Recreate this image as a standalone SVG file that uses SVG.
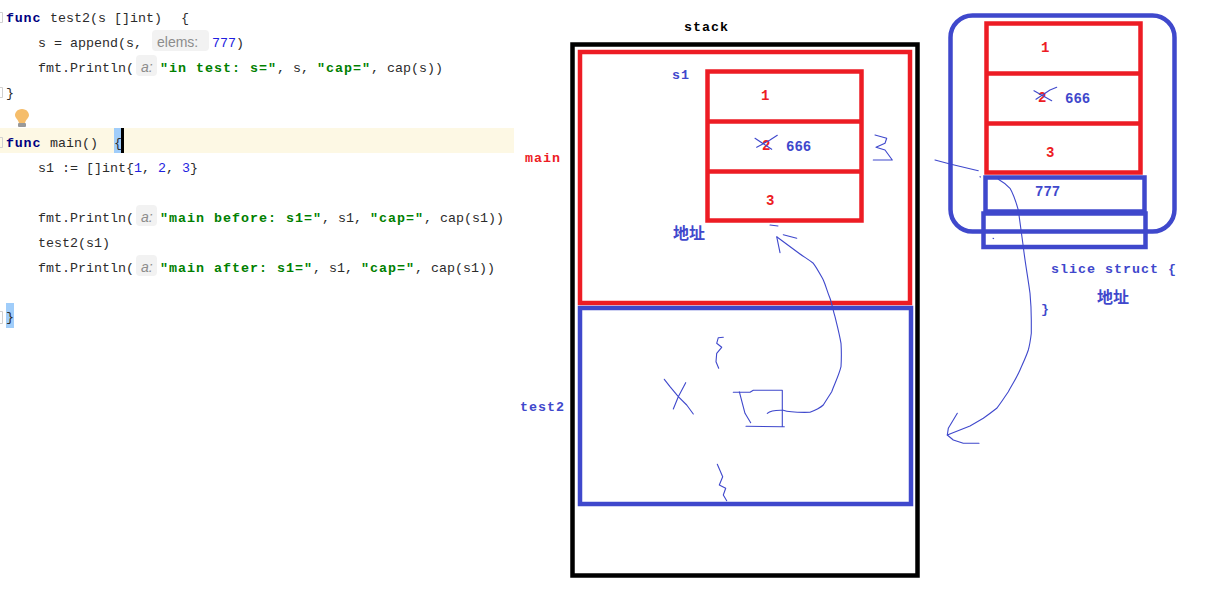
<svg xmlns="http://www.w3.org/2000/svg" width="1210" height="607" viewBox="0 0 1210 607">
<defs>
<style>
text{white-space:pre}
.c{font-family:"Liberation Mono","DejaVu Sans Mono",monospace;font-size:13.33px;fill:#2b2b2b}
.k{font-weight:bold;fill:#000080;letter-spacing:.8px}
.s{font-weight:bold;fill:#008000;letter-spacing:1px}
.n{fill:#1f1fe0}
.h{font-family:"Liberation Sans",Arial,sans-serif;font-size:14px;fill:#8c8c8c}
.hb{fill:#f2f2f2}
.l{font-family:"Liberation Mono","DejaVu Sans Mono",monospace;font-size:13.33px;font-weight:bold;letter-spacing:1px}
.cj{font-family:"Noto Sans CJK SC",sans-serif;font-size:16px;font-weight:bold;fill:#3f48cc}
.bl{fill:#3f48cc}.rd{fill:#ed1c24}.bk{fill:#000}
.num{font-family:"Liberation Mono","DejaVu Sans Mono",monospace;font-size:14px;font-weight:bold}
.box{fill:none;stroke-width:4.5}
.rs{stroke:#ed1c24}.bs{stroke:#3f48cc}.ks{stroke:#000}
.ink{fill:none;stroke:#3f48cc;stroke-width:1.1;stroke-linejoin:round;stroke-linecap:round}
.fold{fill:none;stroke:#d0d0d0;stroke-width:1}
</style>
</defs>
<rect width="1210" height="607" fill="#fff"/>
<g id="code">
<rect x="0" y="128" width="514" height="25" fill="#fdf8e4"/>
<rect x="114" y="128" width="7" height="25" fill="#a0cdfa"/>
<rect x="121" y="128" width="3" height="25" fill="#000"/>
<rect x="6" y="303" width="8" height="25" fill="#a0cdfa"/>
<path class="fold" d="M0 12.500H2.500V22.500H0M0 87.500H2.500V97.500H0M0 137.500H2.500V147.500H0M0 311.500H2.500V323.500H0"/>
<rect class="hb" x="152" y="30" width="57" height="21" rx="4"/>
<rect class="hb" x="136" y="55" width="21" height="21" rx="4"/>
<rect class="hb" x="136" y="205" width="21" height="21" rx="4"/>
<rect class="hb" x="136" y="255" width="21" height="21" rx="4"/>
<path d="M22 109c-5 0-7 4-7 6 0 3 3 4 4 8h6c1-4 4-5 4-8 0-2-2-6-7-6z" fill="#f5bd6b"/>
<rect x="18" y="123" width="8" height="4" rx="1" fill="#999"/>
<text class="c" y="22"><tspan class="k" x="6">func</tspan><tspan x="50">test2(s []int)</tspan><tspan x="181">{</tspan></text>
<text class="c" y="47"><tspan x="38">s = append(s,</tspan></text>
<text class="h" x="157" y="47">elems:</text>
<text class="c" y="47"><tspan class="n" x="212">777</tspan><tspan x="236">)</tspan></text>
<text class="c" y="72"><tspan x="38">fmt.Println(</tspan></text>
<text class="h" x="141" y="72" font-style="italic">a:</text>
<text class="c" y="72"><tspan class="s" x="160">"in test: s="</tspan><tspan x="277">, s, </tspan><tspan class="s" x="317">"cap="</tspan><tspan x="371">, cap(s))</tspan></text>
<text class="c" x="6" y="97">}</text>
<text class="c" y="147"><tspan class="k" x="6">func</tspan><tspan x="50">main()</tspan><tspan x="114">{</tspan></text>
<text class="c" y="172"><tspan x="38">s1 := []int{</tspan><tspan class="n" x="134">1</tspan><tspan x="142">,</tspan><tspan class="n" x="158">2</tspan><tspan x="166">,</tspan><tspan class="n" x="182">3</tspan><tspan x="190">}</tspan></text>
<text class="c" y="222"><tspan x="38">fmt.Println(</tspan></text>
<text class="h" x="141" y="222" font-style="italic">a:</text>
<text class="c" y="222"><tspan class="s" x="160">"main before: s1="</tspan><tspan x="322">, s1, </tspan><tspan class="s" x="370">"cap="</tspan><tspan x="424">, cap(s1))</tspan></text>
<text class="c" x="38" y="247">test2(s1)</text>
<text class="c" y="272"><tspan x="38">fmt.Println(</tspan></text>
<text class="h" x="141" y="272" font-style="italic">a:</text>
<text class="c" y="272"><tspan class="s" x="160">"main after: s1="</tspan><tspan x="313">, s1, </tspan><tspan class="s" x="361">"cap="</tspan><tspan x="415">, cap(s1))</tspan></text>
<text class="c" x="6" y="321">}</text>
</g>
<g id="stack">
<rect class="box ks" x="572.500" y="44.500" width="345" height="531"/>
<text class="l bk" x="684" y="31">stack</text>
</g>
<g id="main-frame">
<rect class="box rs" x="580" y="52" width="330" height="251"/>
<text class="l rd" x="525" y="162">main</text>
</g>
<g id="test2-frame">
<rect class="box bs" x="580" y="308" width="331" height="196"/>
<text class="l bl" x="520" y="411">test2</text>
</g>
<g id="s1-array">
<rect class="box rs" x="707.500" y="71.500" width="154" height="149"/>
<path class="box rs" d="M707.500 121.500H861.500M707.500 171.500H861.500"/>
<text class="l bl" x="672" y="79">s1</text>
<text class="num rd" x="761" y="100">1</text>
<text class="num rd" x="762" y="150">2</text>
<text class="num bl" x="786" y="151">666</text>
<text class="num rd" x="766" y="205">3</text>
<text class="cj" x="673" y="239">地址</text>
<path class="ink" d="M755 138.300L771.700 149.300M756.700 147.300L770 140L777.300 135.300"/>
<path class="ink" d="M875 135L886.700 138.300L885 143.300L876 147.300L885 150L892.300 160L873.300 160"/>
</g>
<g id="slice-struct">
<rect class="box bs" x="950.500" y="15.500" width="224" height="216" rx="22"/>
<rect class="box rs" x="986.500" y="23.500" width="154" height="149"/>
<path class="box rs" d="M986.500 73.500H1140.500M986.500 123.500H1140.500"/>
<rect class="box bs" x="985.500" y="177.500" width="159" height="34"/>
<rect class="box bs" x="983.500" y="213.500" width="162" height="33.500"/>
<text class="num rd" x="1041" y="52">1</text>
<text class="num rd" x="1038" y="102">2</text>
<text class="num bl" x="1065" y="103">666</text>
<text class="num rd" x="1046" y="157">3</text>
<text class="num bl" x="1035" y="196">777</text>
<text class="l bl" x="1051" y="273">slice struct {</text>
<text class="cj" x="1097" y="303">地址</text>
<text class="l bl" x="1041" y="313">}</text>
<path class="ink" d="M1034 90.700L1051.700 100.700M1036 99.300L1050 90L1056.700 87.300"/>
</g>
<g id="test2-sketch">
<path class="ink" d="M664.300 379.300L670 386.700L678.300 396.700L686.700 405L693.300 414M685.700 382.700L678.300 396.700L673.300 409"/>
<path class="ink" d="M723.300 337.300L718.300 337.700L716.700 343.300L721.700 347.300L716.700 353.300L716 361.700L718.700 368.300"/>
<path class="ink" d="M717.300 464.300L722.700 476.700L719.300 485L725.700 488.300L723.300 495L726.700 500.700"/>
<path class="ink" d="M733.300 392.300L750 392.300L753.300 390.300L782.300 390.300L782.300 426.700L784.300 426.700M746 426.300L782.300 426.700M739.300 391.700L745 413.300L750.700 422.700"/>
</g>
<g id="connectors">
<path class="ink" d="M767.300 413.300C770 411 776 410 783.300 410.300C788 412 800 412.500 810 412.300C816 410 820 408 823.300 405C827 399 829 396 831.700 391.700C835 383 839 375 841 366.700C841.500 358 841.500 351 841 343.300C839 332 837 325 835 316.700C833 310 832 304 830 298.300C827 291 826 286 823.300 280C820 274 817 268 813.300 263.300C808 259 804 257 800 254L777 237"/>
<path class="ink" d="M780 252.700L776.700 236.700M783.300 234.700L796.700 238.300M770 225L778 226"/>
<path class="ink" d="M935 160L950 164L978.300 170.700M980 176.700L980.500 177M998.300 179.300C1003 182 1007 185 1010 188.300C1014 195 1016 202 1018.300 210C1020 222 1021.500 234 1023.300 246.700C1025 262 1028 278 1030 293.300C1031 304 1031.300 312 1031.300 320L1031.300 333.300C1030.500 340 1030 344 1028.300 350C1026 357 1023 363 1020 370C1017 377 1012 385 1008.300 391.700C1004 398 1001 403 996.700 408.300C992 412 988 415 983.300 418.300L970 426L947.300 435"/>
<path class="ink" d="M957.300 413.300L948.300 428.300L947.300 435L953.300 440L963.300 443.300L979 443.300M993 238.300L993.600 238.600"/>
</g>
</svg>
